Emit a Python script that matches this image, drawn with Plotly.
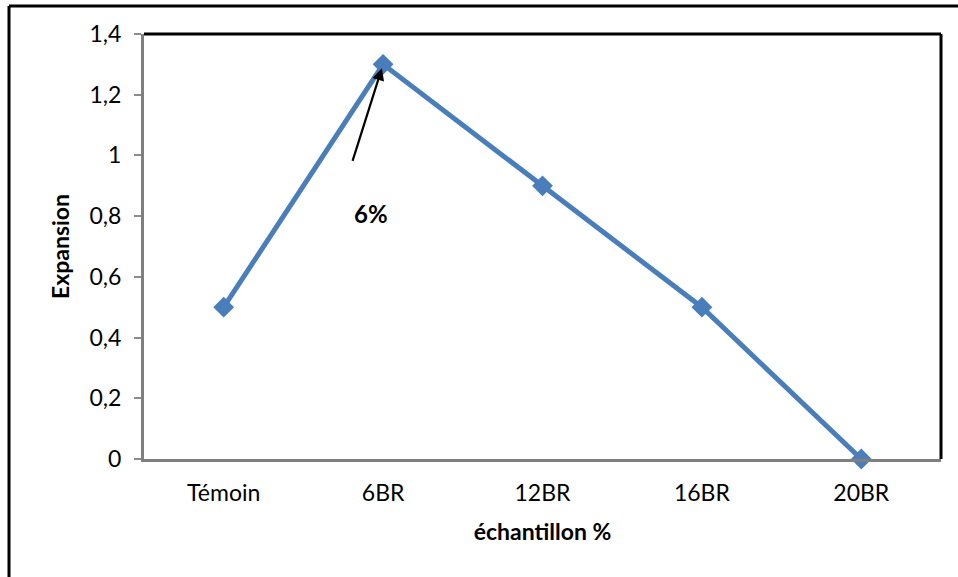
import plotly.graph_objects as go

categories = ["Témoin", "6BR", "12BR", "16BR", "20BR"]
expansion = [0.5, 1.3, 0.9, 0.5, 0.0]
y_ticks = [0, 0.2, 0.4, 0.6, 0.8, 1.0, 1.2, 1.4]

FONT = "Lato, Open Sans, sans-serif"

fig = go.Figure()
fig.add_trace(go.Scatter(
    x=categories, y=expansion, mode="lines+markers",
    line=dict(color="#4a7ebb", width=5),
    marker=dict(symbol="diamond", size=16, color="#4a7ebb"),
    showlegend=False, cliponaxis=False,
))

fig.update_layout(
    width=958, height=577,
    margin=dict(l=144, r=17, t=34, b=118),
    paper_bgcolor="white", plot_bgcolor="white",
    separators=", ",
    font=dict(family=FONT, size=23, color="black"),
    xaxis=dict(
        range=[-0.5, 4.5], showgrid=False, zeroline=False,
        showline=True, linecolor="#7f7f7f", linewidth=3,
        ticks="", tickfont=dict(size=23), ticklabelstandoff=11,
        title=dict(text="<b>échantillon %</b>", font=dict(size=23), standoff=20),
    ),
    yaxis=dict(
        range=[0, 1.4], tickvals=y_ticks, showgrid=False, zeroline=False,
        showline=True, linecolor="#7f7f7f", linewidth=3,
        ticks="outside", ticklen=7, tickcolor="#8c8c8c", tickwidth=2,
        tickfont=dict(size=23), ticklabelstandoff=8,
        title=dict(text="<b>Expansion</b>", font=dict(size=23), standoff=14),
    ),
    shapes=[
        # plot area top and right borders
        dict(type="line", xref="paper", yref="paper", x0=0, x1=1, y0=1, y1=1,
             line=dict(color="black", width=3)),
        dict(type="line", xref="paper", yref="paper", x0=1, x1=1, y0=0, y1=1,
             line=dict(color="black", width=3)),
        # outer frame (top and left)
        dict(type="line", xref="paper", yref="paper",
             x0=-135/797, x1=814/797, y0=1 + 28/425, y1=1 + 28/425,
             line=dict(color="black", width=3)),
        dict(type="line", xref="paper", yref="paper",
             x0=-135/797, x1=-135/797, y0=1 + 28/425, y1=-118/425,
             line=dict(color="black", width=3)),
    ],
    annotations=[
        dict(x="6BR", y=1.3, xref="x", yref="y", ax=-31, ay=98,
             showarrow=True, arrowhead=2, arrowsize=1.1, arrowwidth=2.2,
             arrowcolor="black", standoff=4, text=""),
        dict(x=(352 - 144) / 797, y=(459 - 213) / 425, xref="paper", yref="paper",
             text="<b>6%</b>", showarrow=False, font=dict(size=24, color="black")),
    ],
)

fig.write_html("out.html", config={"displayModeBar": False},
               post_script="document.body.style.margin='0';document.body.style.padding='0';")
